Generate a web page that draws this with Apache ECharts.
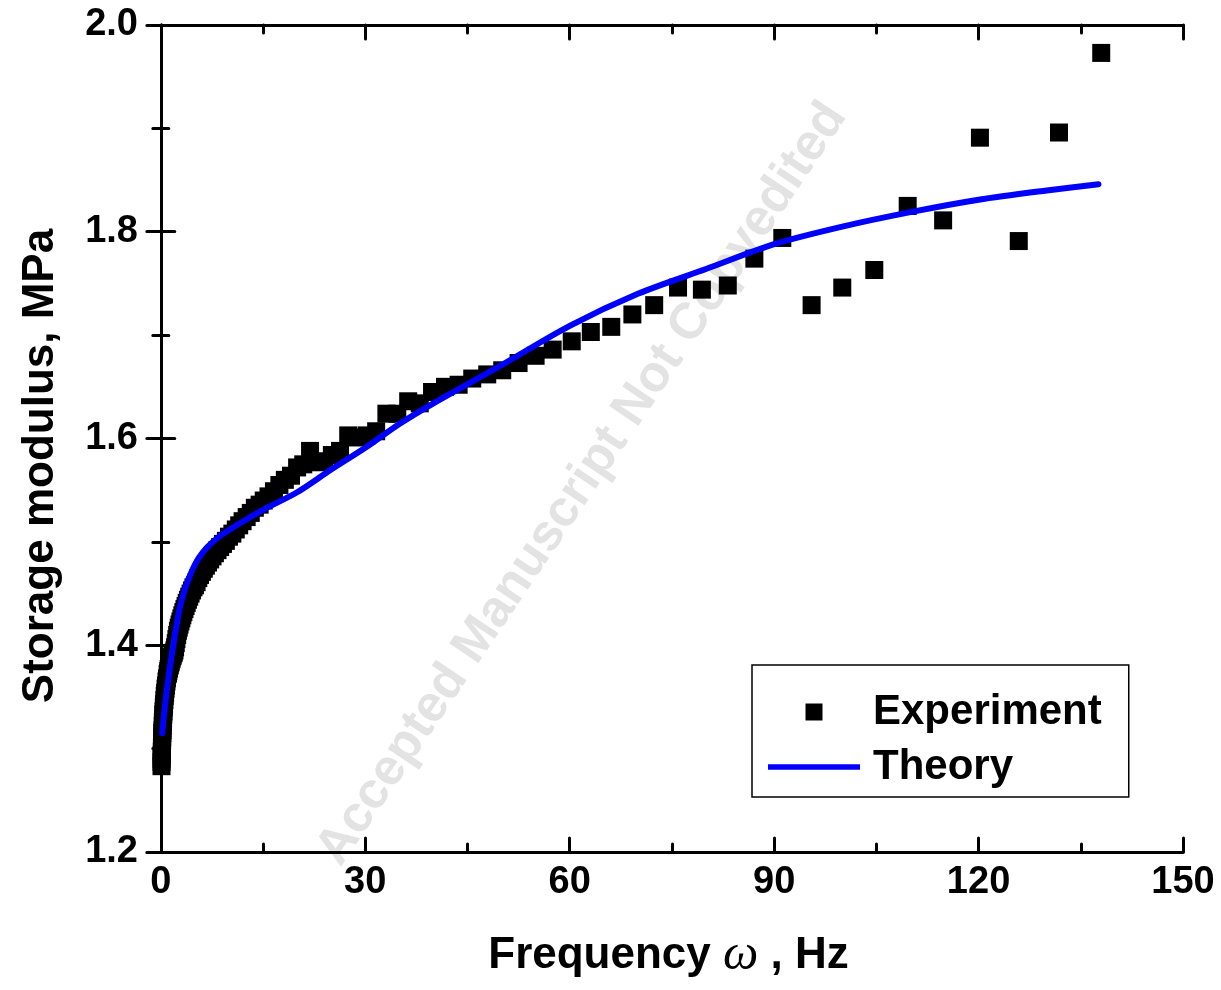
<!DOCTYPE html>
<html>
<head>
<meta charset="utf-8">
<script src="https://cdn.jsdelivr.net/npm/echarts@6/dist/echarts.min.js"></script>
<style>
html,body{margin:0;padding:0;background:#fff;}
#chart{width:1221px;height:990px;}
</style>
</head>
<body>
<div id="chart"></div>
<script>
// ---- data ----
const expX = [
  0.100,0.110,0.120,0.132,0.145,0.158,0.174,0.191,0.209,0.229,
  0.251,0.275,0.302,0.331,0.363,0.398,0.437,0.479,0.525,0.575,
  0.631,0.692,0.759,0.832,0.912,
  1.00,1.05,1.10,1.15,1.20,1.26,1.32,1.38,1.45,1.51,
  1.58,1.66,1.74,1.82,1.91,2.00,2.09,2.19,2.29,2.40,
  2.51,2.63,2.75,2.88,3.02,3.16,3.31,3.47,3.63,3.80,
  3.98,4.17,4.37,4.57,4.79,5.01,5.25,5.50,5.75,6.03,
  6.31,6.61,6.92,7.24,7.59,7.94,8.32,8.71,9.12,9.55,
  10.0,10.5,11.0,11.5,12.0,12.6,13.2,13.8,14.5,15.1,
  15.8,16.6,17.4,18.2,19.1,20.0,20.9,21.9,22.9,24.0,
  25.1,26.3,27.5,28.8,30.2,31.6,33.1,34.7,36.3,38.0,
  39.8,41.7,43.7,45.7,47.9,50.1,52.5,55.0,57.5,60.3,
  63.1,66.1,69.2,72.4,75.9,79.4,83.2,87.1,91.2,95.5,
  100.0,104.7,109.6,114.8,120.2,125.9,131.8,138.0
];
const expY = [
  1.283,1.287,1.290,1.294,1.297,1.301,1.304,1.308,1.311,1.315,
  1.318,1.322,1.326,1.329,1.333,1.336,1.340,1.343,1.347,1.351,
  1.354,1.358,1.361,1.365,1.368,
  1.372,1.373,1.375,1.377,1.378,1.380,1.381,1.383,1.384,1.386,
  1.387,1.389,1.390,1.392,1.393,1.395,1.398,1.402,1.406,1.410,
  1.414,1.417,1.420,1.423,1.426,1.429,1.432,1.435,1.438,1.441,
  1.444,1.447,1.450,1.453,1.456,1.458,1.461,1.465,1.468,1.471,
  1.474,1.477,1.480,1.483,1.486,1.489,1.492,1.495,1.498,1.501,
  1.505,1.508,1.512,1.516,1.520,1.524,1.528,1.533,1.536,1.540,
  1.544,1.549,1.555,1.560,1.564,1.572,1.575,1.588,1.577,1.578,
  1.584,1.588,1.603,1.601,1.603,1.607,1.624,1.624,1.636,1.634,
  1.645,1.650,1.652,1.658,1.662,1.666,1.673,1.680,1.686,1.694,
  1.703,1.708,1.720,1.729,1.746,1.744,1.748,1.774,1.794,1.729,
  1.746,1.763,1.825,1.811,1.891,1.791,1.896,1.973
];
const theoryX = [0.2,0.5,0.84,1.3,1.8,2.3,2.8,3.4,4.0,5.25,6.7,8.0,9.2,12.1,15.0,20,25,30,35,40,50,60,70,80,90,100,110,120,130,137.6];
const theoryY = [1.315,1.335,1.354,1.377,1.399,1.419,1.437,1.451,1.463,1.481,1.494,1.502,1.508,1.520,1.531,1.548,1.570,1.591,1.614,1.634,1.671,1.709,1.740,1.764,1.788,1.805,1.819,1.831,1.840,1.846];
const xMajorTicks = [0,30,60,90,120,150];
const xMinorTicks = [15,45,75,105,135];
const seriesNames = ['Experiment','Theory'];
const xTitleParts = ['Frequency ','ω',' , Hz'];
const yTitle = 'Storage modulus, MPa';
const watermark = 'Accepted Manuscript Not Copyedited';

const FONT = "'Liberation Sans', Arial, Helvetica, sans-serif";
const expData = expX.map((x,i)=>[x,expY[i]]);
const theoryData = theoryX.map((x,i)=>[x,theoryY[i]]);

function xAxisDef(pos, values, len, withLabels, showLine){
  return {
    type:'value', min:-1, max:150, position:pos, gridIndex:0,
    axisLine:{show:showLine, onZero:false, lineStyle:{color:'#000', width:3}},
    axisTick:{show:true, inside:true, length:len, customValues:values, lineStyle:{color:'#000', width:3, cap:'round'}},
    axisLabel: withLabels ? {show:true, customValues:values, color:'#000', fontSize:38, fontWeight:'bold', fontFamily:FONT, margin:12} : {show:false},
    splitLine:{show:false}
  };
}

const chart = echarts.init(document.getElementById('chart'), null, {renderer:'canvas'});
const xMain = xAxisDef('bottom', xMajorTicks, 14, true, true);
xMain.name = '{a|' + xTitleParts[0] + '}{w|' + xTitleParts[1] + '}{a|' + xTitleParts[2] + '}';
xMain.nameLocation = 'middle';
xMain.nameGap = 79;
xMain.nameTextStyle = {
  rich:{
    a:{fontSize:44, fontWeight:'bold', fontFamily:FONT, color:'#000'},
    w:{fontSize:50, fontStyle:'italic', fontFamily:"'Liberation Serif', 'Times New Roman', serif", color:'#000'}
  }
};

function yAxisDef(pos, withLabels){
  return {
    type:'value', min:1.2, max:2.0, interval:0.2, position:pos,
    axisLine:{show:true, lineStyle:{color:'#000', width:3}},
    axisTick:{show:true, inside:true, length:14, lineStyle:{color:'#000', width:3, cap:'round'}},
    minorTick:{show:true, splitNumber:2, length:8, lineStyle:{color:'#000', width:3, cap:'round'}},
    axisLabel: withLabels ? {show:true, color:'#000', fontSize:38, fontWeight:'bold', fontFamily:FONT, margin:16, formatter:v=>v.toFixed(1)} : {show:false},
    splitLine:{show:false}, minorSplitLine:{show:false}
  };
}

chart.setOption({
  animation:false,
  backgroundColor:'#fff',
  grid:{left:154, top:25, width:1029, height:827, containLabel:false},
  xAxis:[
    xMain,
    xAxisDef('bottom', xMinorTicks, 8, false, false),
    xAxisDef('top', xMajorTicks, 14, false, true),
    xAxisDef('top', xMinorTicks, 8, false, false)
  ],
  yAxis:[ yAxisDef('left', true), yAxisDef('right', false) ],
  legend:{
    orient:'vertical', left:752, top:665,
    padding:[26,27,9,16],
    itemWidth:92, itemHeight:17, itemGap:13,
    symbolKeepAspect:true,
    borderColor:'#000', borderWidth:1.5,
    textStyle:{fontSize:42, lineHeight:42, fontWeight:'bold', fontFamily:FONT, color:'#000', padding:[0,0,0,8]},
    data:[
      {name:seriesNames[0], icon:'path://M0,0H10V10H0Z', itemStyle:{color:'#000', opacity:1}},
      {name:seriesNames[1], icon:'path://M0,0H100V6H0Z', itemStyle:{color:'#0000ff', opacity:1}}
    ]
  },
  graphic:[
    {type:'text', x:582, y:484, rotation:56*Math.PI/180, z:-10, silent:true,
     style:{text:watermark, font:"bold 51px "+FONT, fill:'#e3e3e3', textAlign:'center', textVerticalAlign:'middle'}},
    {type:'text', x:41, y:466, rotation:Math.PI/2, z:10, silent:true,
     style:{text:yTitle, font:"bold 44px "+FONT, fill:'#000', textAlign:'center', textVerticalAlign:'middle'}}
  ],
  series:[
    {name:seriesNames[0], type:'scatter', xAxisIndex:0, yAxisIndex:0, symbol:'rect', symbolSize:18,
     itemStyle:{color:'#000', opacity:1}, data:expData, z:3, clip:false},
    {name:seriesNames[1], type:'line', xAxisIndex:0, yAxisIndex:0, symbol:'none', showSymbol:false,
     smooth:0.3,
     lineStyle:{color:'#0000ff', width:6, cap:'round', join:'round'}, itemStyle:{color:'#0000ff'},
     data:theoryData, z:4}
  ]
});
</script>
</body>
</html>
